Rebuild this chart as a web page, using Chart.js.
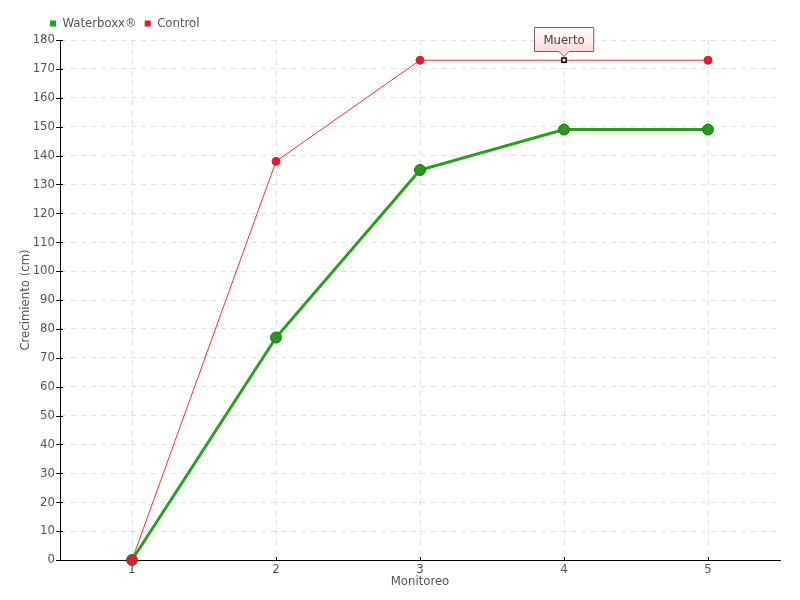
<!DOCTYPE html>
<html>
<head>
<meta charset="utf-8">
<script src="https://cdn.jsdelivr.net/npm/chart.js@4"></script>
<style>
  html, body { margin: 0; padding: 0; background: #fff; }
  #wrap { width: 800px; height: 600px; }
</style>
</head>
<body>
<div id="wrap"><canvas id="myChart" width="800" height="600"></canvas></div>
<script>
// data
const monitoreo = ['1', '2', '3', '4', '5']
const waterboxx = [0, 77, 135, 149, 149]
const control = [0, 138, 173, 173, 173]
const notes = [null, null, null, 'Muerto', null]

const FONT = '"DejaVu Sans Condensed", "Liberation Sans Narrow", sans-serif'

// tick marks crossing the axes + the "Muerto" callout
const extrasPlugin = {
  id: 'extras',
  afterLayout(chart) {
    // legend starts a bit right of the canvas edge
    chart.legend.left += 42
  },
  beforeDatasetsDraw(chart) {
    const ctx = chart.ctx
    const { x, y } = chart.scales
    ctx.save()
    ctx.strokeStyle = '#000'
    ctx.lineWidth = 1
    ctx.beginPath()
    y.ticks.forEach(t => {
      const py = Math.round(y.getPixelForValue(t.value)) + 0.5
      ctx.moveTo(x.left - 4, py)
      ctx.lineTo(x.left + 3, py)
    })
    monitoreo.forEach((m, i) => {
      const px = Math.round(x.getPixelForValue(i)) + 0.5
      ctx.moveTo(px, y.bottom - 3)
      ctx.lineTo(px, y.bottom)
    })
    ctx.stroke()
    ctx.restore()
  },
  afterDatasetsDraw(chart) {
    const meta = chart.getDatasetMeta(1)
    const ctx = chart.ctx
    notes.forEach((txt, i) => {
      if (!txt) return
      const p = meta.data[i]
      ctx.save()
      ctx.font = '13px ' + FONT
      const w = ctx.measureText(txt).width + 18
      const h = 24
      const x = Math.round(p.x - w / 2) + 0.5
      const y = Math.round(p.y - 33) + 0.5
      const g = ctx.createLinearGradient(0, y, 0, y + h)
      g.addColorStop(0, '#ffffff')
      g.addColorStop(1, '#fdd8d8')
      ctx.beginPath()
      ctx.moveTo(x, y)
      ctx.lineTo(x + w, y)
      ctx.lineTo(x + w, y + h)
      ctx.lineTo(p.x + 5, y + h)
      ctx.lineTo(p.x, y + h + 5)
      ctx.lineTo(p.x - 5, y + h)
      ctx.lineTo(x, y + h)
      ctx.closePath()
      ctx.fillStyle = g
      ctx.fill()
      ctx.strokeStyle = '#666'
      ctx.lineWidth = 1
      ctx.stroke()
      ctx.fillStyle = '#444'
      ctx.textAlign = 'center'
      ctx.textBaseline = 'middle'
      ctx.fillText(txt, p.x, y + h / 2 + 1)
      ctx.restore()
    })
  }
}

const ctx = document.getElementById('myChart').getContext('2d')
const chart = new Chart(ctx, {
  type: 'line',
  data: {
    labels: monitoreo,
    datasets: [{
      label: 'Waterboxx®',
      data: waterboxx,
      order: 2,
      clip: false,
      borderColor: '#22a318',
      backgroundColor: '#22a318',
      borderWidth: 3,
      pointRadius: 5.5,
      pointBackgroundColor: '#24991a',
      pointBorderColor: '#1b7a12',
      pointBorderWidth: 1,
      tension: 0
    }, {
      label: 'Control',
      data: control,
      order: 1,
      clip: false,
      borderColor: '#f0303c',
      backgroundColor: '#e8192c',
      borderWidth: 1,
      pointRadius: [4.5, 4, 4, 3, 4],
      pointStyle: ['circle', 'circle', 'circle', 'rect', 'circle'],
      pointBackgroundColor: ['#e8192c', '#e8192c', '#e8192c', '#ffffff', '#e8192c'],
      pointBorderColor: ['#e8192c', '#e8192c', '#e8192c', '#000000', '#e8192c'],
      pointBorderWidth: [1, 1, 1, 1.5, 1],
      tension: 0
    }]
  },
  options: {
    responsive: false,
    animation: false,
    layout: { padding: { left: 0, right: 20, top: 9, bottom: 11 } },
    plugins: {
      legend: {
        align: 'start',
        labels: {
          boxWidth: 6,
          boxHeight: 6,
          padding: 8,
          color: '#555',
          font: { family: FONT, size: 13 },
          sort: (a, b) => a.datasetIndex - b.datasetIndex,
          generateLabels(chart) {
            const items = Chart.defaults.plugins.legend.labels.generateLabels(chart)
            items.forEach(it => { it.lineWidth = 0 })
            return items
          }
        }
      },
      tooltip: { enabled: false }
    },
    scales: {
      x: {
        offset: true,
        title: { display: true, text: 'Monitoreo', color: '#555', padding: 0, font: { family: FONT, size: 13 } },
        grid: { color: '#e0e0e0', drawTicks: false, offset: false },
        border: { color: '#000', width: 1, dash: [5, 5] },
        ticks: { color: '#555', padding: 2, font: { family: FONT, size: 13 } },
        afterFit(scale) { scale.height = 29 }
      },
      y: {
        min: 0,
        max: 180,
        title: { display: true, text: 'Crecimiento (cm)', color: '#555', padding: { top: 18, bottom: 0 }, font: { family: FONT, size: 13 } },
        grid: { color: '#e0e0e0', drawTicks: false },
        border: { color: '#000', width: 1, dash: [5, 5] },
        ticks: { stepSize: 10, color: '#555', padding: 5, font: { family: FONT, size: 13 } },
        afterFit(scale) { scale.width = 60 }
      }
    }
  },
  plugins: [extrasPlugin]
})
</script>
</body>
</html>
